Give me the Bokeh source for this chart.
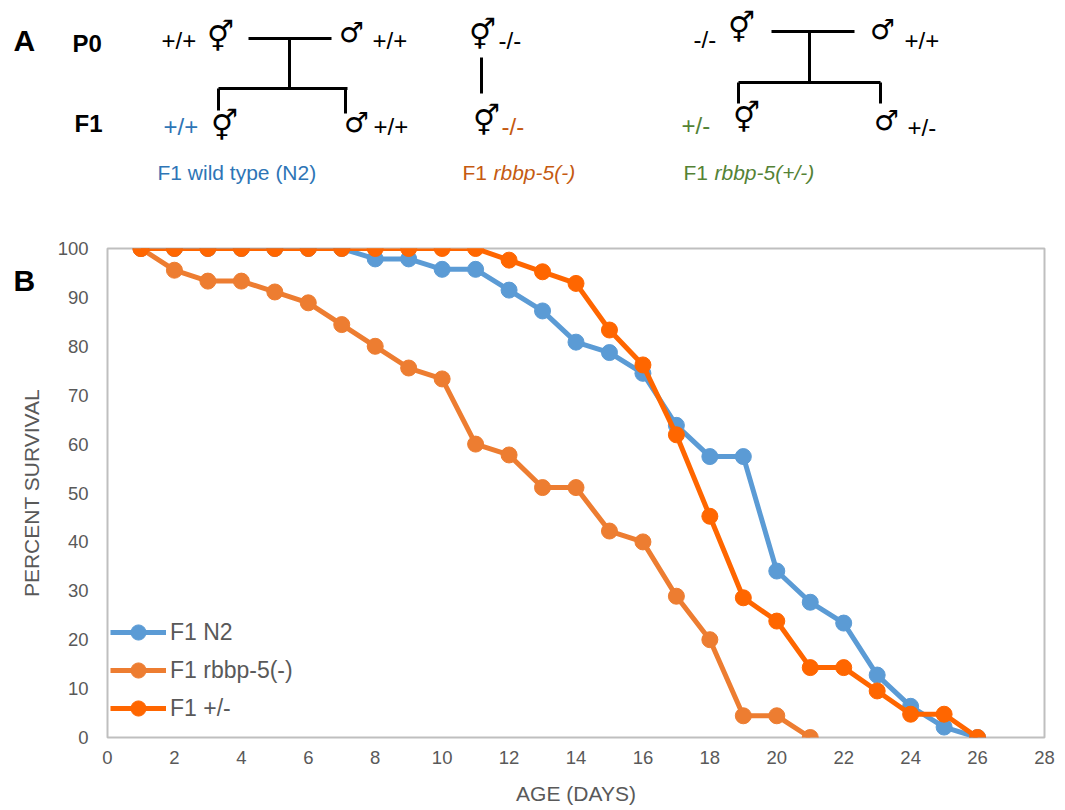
from bokeh.plotting import figure
from bokeh.models import Range1d, FixedTicker
from bokeh.core.properties import value
from bokeh.embed import file_html
from bokeh.resources import INLINE

# ---- survival data (percent alive per day) ----
days = list(range(1, 27))
n2_survival = [100, 100, 100, 100, 100, 100, 100, 97.87, 97.87, 95.74, 95.74,
               91.49, 87.23, 80.85, 78.72, 74.47, 63.83, 57.45, 57.45, 34.04,
               27.66, 23.40, 12.77, 6.38, 2.13, 0]
rbbp_days = list(range(1, 22))
rbbp_survival = [100, 95.56, 93.33, 93.33, 91.11, 88.89, 84.44, 80.0, 75.56,
                 73.33, 60.0, 57.78, 51.11, 51.11, 42.22, 40.0, 28.89, 20.0,
                 4.44, 4.44, 0]
het_survival = [100, 100, 100, 100, 100, 100, 100, 100, 100, 100, 100,
                97.62, 95.24, 92.86, 83.33, 76.19, 61.90, 45.24, 28.57, 23.81,
                14.29, 14.29, 9.52, 4.76, 4.76, 0]

series_names = ["F1 N2", "F1 rbbp-5(-)", "F1 +/-"]
series_colors = ["#5B9BD5", "#ED7D31", "#FF6600"]

x_ticks = list(range(0, 29, 2))
y_ticks = list(range(0, 101, 10))

FONT = "Liberation Sans"
SYM_FONT = "DejaVu Sans"
GRAY = "#595959"
BLUE_TXT = "#2E75B6"
ORANGE_TXT = "#C55A11"
GREEN_TXT = "#548235"
HERM = "\u26a5"
MALE = "\u2642"

W, H = 1065, 810

# ---- page canvas: panel A crossing scheme and panel letters (pixel coords, y down) ----
bg = figure(width=W, height=H, x_range=Range1d(0, W), y_range=Range1d(H, 0),
            x_axis_type=None, y_axis_type=None, toolbar_location=None,
            output_backend="svg", min_border=0, outline_line_color=None)
bg.grid.visible = False


def txt(fig, x, y, s, size, color="black", style="normal", align="left", font=FONT):
    fig.text(x=[x], y=[y], text=[s], text_font=value(font), text_font_size=size,
             text_color=color, text_font_style=style, text_align=align,
             text_baseline="middle")


def sym(x, y, s, size):
    txt(bg, x, y, s, size, align="center", font=SYM_FONT)


txt(bg, 13, 40, "A", "30px", style="bold")
txt(bg, 13, 280, "B", "30px", style="bold")
txt(bg, 72, 43, "P0", "24px", style="bold")
txt(bg, 74, 123, "F1", "24px", style="bold")

# wild-type cross
txt(bg, 161, 40, "+/+", "24px")
sym(220, 36, HERM, "30px")
sym(351, 32, MALE, "28px")
txt(bg, 372, 40, "+/+", "24px")
txt(bg, 163, 126, "+/+", "24px", color=BLUE_TXT)
sym(224, 125, HERM, "30px")
sym(356, 122, MALE, "28px")
txt(bg, 373, 126, "+/+", "24px")
bg.multi_line(xs=[[248, 331], [289, 289], [218, 347], [218, 218], [345, 345]],
              ys=[[38, 38], [38, 89], [88, 88], [88, 110], [88, 113]],
              line_color="black", line_width=3)

# mutant line
sym(482, 34, HERM, "30px")
txt(bg, 498, 40, "-/-", "24px")
sym(486, 120, HERM, "30px")
txt(bg, 501, 126, "-/-", "24px", color=ORANGE_TXT)
bg.line(x=[481, 481], y=[57, 93], line_color="black", line_width=3)

# heterozygote cross
txt(bg, 693, 39, "-/-", "24px")
sym(741, 27, HERM, "30px")
sym(882, 29, MALE, "28px")
txt(bg, 904, 40, "+/+", "24px")
txt(bg, 681, 125, "+/-", "24px", color=GREEN_TXT)
sym(746, 117, HERM, "30px")
sym(886, 120, MALE, "28px")
txt(bg, 907, 127, "+/-", "24px")
bg.multi_line(xs=[[771, 854], [809, 809], [738, 880], [738, 738], [880, 880]],
              ys=[[31, 31], [31, 82], [82, 82], [82, 103], [82, 103]],
              line_color="black", line_width=3)

# genotype captions
txt(bg, 157, 172, "F1 wild type (N2)", "21px", color=BLUE_TXT)
txt(bg, 462, 172, "F1", "21px", color=ORANGE_TXT)
txt(bg, 493, 172, "rbbp-5(-)", "21px", color=ORANGE_TXT, style="italic")
txt(bg, 683, 172, "F1", "21px", color=GREEN_TXT)
txt(bg, 714, 172, "rbbp-5(+/-)", "21px", color=GREEN_TXT, style="italic")

# ---- panel B: survival curves, overlaid on the page canvas ----
p = figure(width=W, height=H, x_range=Range1d(0, 28), y_range=Range1d(0, 100),
           toolbar_location=None, output_backend="svg",
           min_border_left=107, min_border_right=21, min_border_top=248,
           min_border_bottom=73)
p.styles = {"position": "absolute", "left": "0px", "top": "0px"}
p.background_fill_alpha = 0
p.border_fill_alpha = 0
p.grid.visible = False
p.outline_line_color = "#BFBFBF"
p.outline_line_width = 2

all_x = [days, rbbp_days, days]
all_y = [n2_survival, rbbp_survival, het_survival]
for xs, ys, name, col in zip(all_x, all_y, series_names, series_colors):
    p.line(xs, ys, line_color=col, line_width=5, legend_label=name)
    p.scatter(xs, ys, size=16, fill_color=col, line_color=col, legend_label=name)

p.xaxis.ticker = FixedTicker(ticks=x_ticks)
p.yaxis.ticker = FixedTicker(ticks=y_ticks)
for ax in (p.xaxis[0], p.yaxis[0]):
    ax.axis_line_color = None
    ax.major_tick_line_color = None
    ax.minor_tick_line_color = None
    ax.major_tick_out = 0
    ax.major_tick_in = 0
    ax.major_label_text_font = FONT
    ax.major_label_text_font_size = "18.5px"
    ax.major_label_text_color = GRAY
    ax.axis_label_text_font = FONT
    ax.axis_label_text_font_size = "21px"
    ax.axis_label_text_color = GRAY
    ax.axis_label_text_font_style = "normal"
p.xaxis.axis_label = "AGE (DAYS)"
p.yaxis.axis_label = "PERCENT SURVIVAL"
p.xaxis.major_label_standoff = 13
p.yaxis.major_label_standoff = 19
p.xaxis.axis_label_standoff = 15
p.yaxis.axis_label_standoff = 12

lg = p.legend[0]
lg.location = (3, 10)
lg.margin = 0
lg.padding = 0
lg.spacing = 0
lg.glyph_width = 56
lg.glyph_height = 38
lg.label_height = 38
lg.label_standoff = 4
lg.label_text_font = FONT
lg.label_text_font_size = "23px"
lg.label_text_color = GRAY
lg.background_fill_alpha = 0
lg.border_line_color = None

open("out.html", "w").write(file_html([bg, p], INLINE))
